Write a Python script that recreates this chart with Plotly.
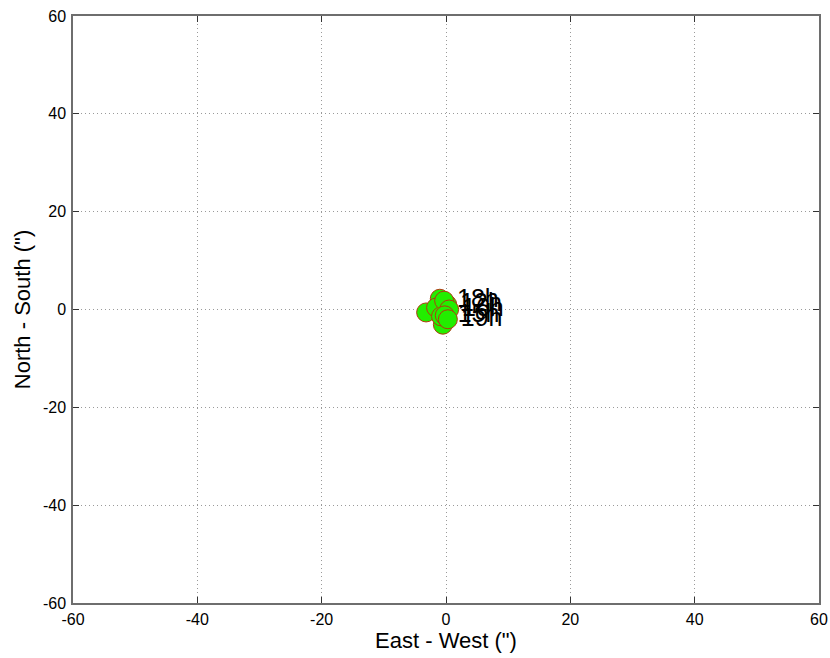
import plotly.graph_objects as go

# Positions of the source (arcsec)
east_west = [-3.2, -1.0, -0.5, -1.6, -0.8, 0.2, -0.3, 0.5, -0.2, 0.3]
north_south = [-0.6, 2.2, -3.1, 0.4, -1.4, 1.0, 1.8, 0.0, -1.2, -2.0]
hour_labels = ["", "", "", "", "", "12h", "18h", "16h", "15h", "19h"]

tick_vals = [-60, -40, -20, 0, 20, 40, 60]
tick_text = ["-60", "-40", "-20", "0", "20", "40", "60"]

font_family = "Liberation Sans, Arial, sans-serif"

fig = go.Figure()
fig.add_trace(go.Scatter(
    x=east_west, y=north_south,
    mode="markers+text",
    text=hour_labels,
    textposition="middle right",
    textfont=dict(size=25, color="black", family=font_family),
    marker=dict(size=19, color="#22ee00", line=dict(color="#b03a10", width=1)),
    cliponaxis=False,
    showlegend=False,
))

axis_common = dict(
    range=[-60, 60],
    tickmode="array",
    tickvals=tick_vals,
    ticktext=tick_text,
    showgrid=True,
    gridcolor="#9a9a9a",
    griddash="1px,3px",
    gridwidth=1,
    zeroline=False,
    showline=True,
    linecolor="#6e6e6e",
    linewidth=1.5,
    mirror="ticks",
    ticks="inside",
    ticklen=6,
    tickcolor="#333333",
    tickfont=dict(size=16, color="black", family=font_family),
    automargin=False,
)

fig.update_layout(
    width=830, height=658,
    margin=dict(l=73, r=11, t=16, b=55),
    paper_bgcolor="white",
    plot_bgcolor="white",
    font=dict(family=font_family, color="black"),
    xaxis=dict(**axis_common, ticklabelstandoff=1,
               title=dict(text='East - West (")', font=dict(size=22, color="black"), standoff=0)),
    yaxis=dict(**axis_common, ticklabelstandoff=2,
               title=dict(text='North - South (")', font=dict(size=22, color="black"), standoff=6)),
)

fig.write_html("out.html")
